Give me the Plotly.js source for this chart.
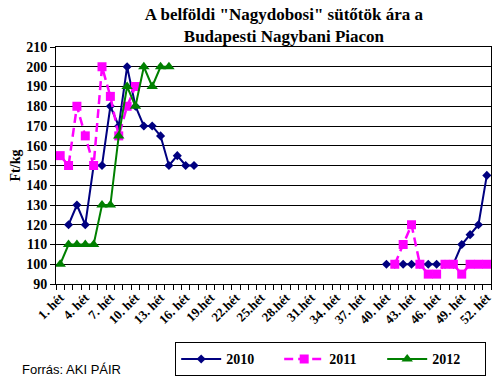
<!DOCTYPE html>
<html>
<head>
<meta charset="utf-8">
<script src="https://cdn.plot.ly/plotly-3.0.1.min.js"></script>
<style>html,body{margin:0;padding:0;background:#fff;}#chart{width:500px;height:386px;}</style>
</head>
<body>
<div id="chart"></div>
<script>
const weeks = [1,2,3,4,5,6,7,8,9,10,11,12,13,14,15,16,17,18,19,20,21,22,23,24,25,26,
  27,28,29,30,31,32,33,34,35,36,37,38,39,40,41,42,43,44,45,46,47,48,49,50,51,52];
const tickWeeks = [1,4,7,10,13,16,19,22,25,28,31,34,37,40,43,46,49,52];
const tickLabels = ["1. hét","4. hét","7. hét","10. hét","13. hét","16. hét","19.hét","22.hét",
  "25.hét","28.hét","31.hét","34. hét","37. hét","40. hét","43. hét","46. hét","49. hét","52. hét"];
const N = null;
const s2010 = [N,120,130,120,150,150,180,170,200,180,170,170,165,150,155,150,150,N,N,N,N,N,N,N,N,N,
  N,N,N,N,N,N,N,N,N,N,N,N,N,100,100,100,100,100,100,100,100,100,110,115,120,145];
const s2011 = [155,150,180,165,150,200,185,165,180,190,N,N,N,N,N,N,N,N,N,N,N,N,N,N,N,N,
  N,N,N,N,N,N,N,N,N,N,N,N,N,N,100,110,120,100,95,95,100,100,95,100,100,100];
const s2012 = [100,110,110,110,110,130,130,165,190,180,200,190,200,200,N,N,N,N,N,N,N,N,N,N,N,N,
  N,N,N,N,N,N,N,N,N,N,N,N,N,N,N,N,N,N,N,N,N,N,N,N,N,N];
const seriesNames = ["2010","2011","2012"];

const serif = 'Liberation Serif, Times New Roman, serif';
const traces = [
  {x: weeks, y: s2010, name: seriesNames[0], type:'scatter', mode:'lines+markers',
   line:{color:'#000080', width:2}, marker:{symbol:'diamond', size:7, color:'#000080'}},
  {x: weeks, y: s2011, name: seriesNames[1], type:'scatter', mode:'lines+markers',
   line:{color:'#FF00FF', width:2.5, dash:'9px,5px'}, marker:{symbol:'square', size:9, color:'#FF00FF'}},
  {x: weeks, y: s2012, name: seriesNames[2], type:'scatter', mode:'lines+markers',
   line:{color:'#008000', width:2}, marker:{symbol:'triangle-up', size:10, color:'#008000'}}
];

const layout = {
  width:500, height:386,
  margin:{l:56, r:9, t:47, b:99},
  paper_bgcolor:'#fff', plot_bgcolor:'#fff',
  title:{text:'A belföldi "Nagydobosi" sütőtök ára a<br>Budapesti Nagybani Piacon',
    font:{family:serif, size:17, color:'#000', weight:'bold'},
    x:0.524, xanchor:'center', xref:'paper', yref:'container', y:0.948, yanchor:'middle'},
  showlegend:true,
  legend:{orientation:'h', x:0.274, xanchor:'left', y:-0.39, yanchor:'bottom',
    bordercolor:'#000', borderwidth:1, bgcolor:'#fff',
    font:{family:serif, size:14, color:'#000', weight:'bold'},
    itemwidth:40, entrywidth:48, entrywidthmode:'pixels', tracegroupgap:0},
  xaxis:{range:[0.5,52.5], tickmode:'array', tickvals:tickWeeks, ticktext:tickLabels,
    tickangle:-45, ticks:'', showgrid:false, zeroline:false, automargin:false,
    showline:true, linecolor:'#000', linewidth:1, mirror:true,
    tickfont:{family:serif, size:13, color:'#000', weight:'bold'},
    minor:{tickmode:'linear', tick0:0.5, dtick:1, ticks:'outside', ticklen:5, tickcolor:'#000', showgrid:false}},
  yaxis:{range:[90,210], dtick:10, tick0:90, ticks:'outside', ticklen:5, tickcolor:'#000',
    showgrid:true, gridcolor:'#000', gridwidth:1, zeroline:false, automargin:false,
    showline:true, linecolor:'#000', linewidth:1, mirror:true,
    tickfont:{family:serif, size:14, color:'#000', weight:'bold'},
    title:{text:'Ft/kg', standoff:2,
      font:{family:serif, size:14, color:'#000', weight:'bold'}}},
  annotations:[{text:'Forrás: AKI PÁIR', xref:'paper', yref:'paper', x:-0.083, y:-0.362,
    xanchor:'left', yanchor:'middle', showarrow:false,
    font:{family:'Liberation Sans, Arial, sans-serif', size:13, color:'#000'}}]
};

Plotly.newPlot('chart', traces, layout, {displayModeBar:false, staticPlot:true});
</script>
</body>
</html>
